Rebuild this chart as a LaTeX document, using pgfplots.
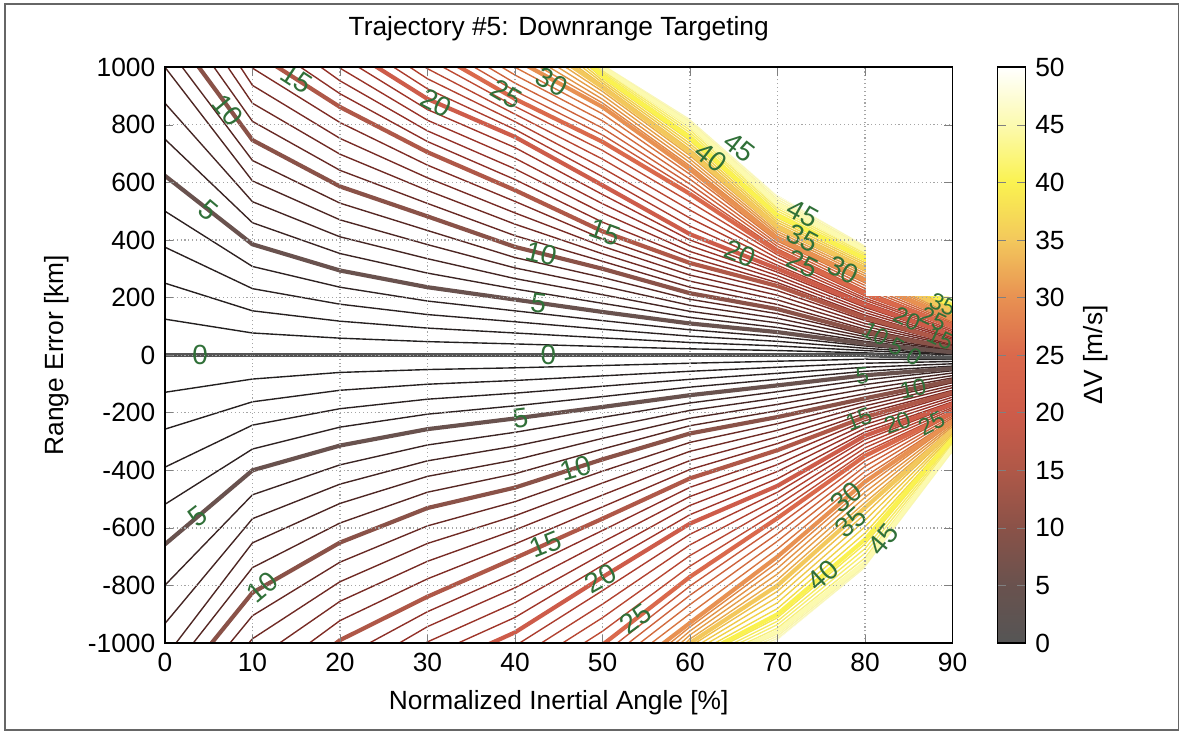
\documentclass[border=0pt]{standalone}
\usepackage{fontspec}
\setmainfont{Liberation Sans}
\usepackage{pgfplots}
\usepackage{pgfplotstable}
\pgfplotsset{compat=1.18}

\definecolor{labgreen}{RGB}{48,112,56}
\definecolor{gridgray}{RGB}{165,165,165}

\pgfplotsset{
  /pgf/number format/assume math mode=true,
  /pgf/number format/1000 sep={},
  every tick label/.append style={font=\fontsize{9.5}{11}\selectfont},
  every axis label/.append style={font=\fontsize{9.5}{11}\selectfont},
  % colour scale of the contour levels (0 ... 50 m/s)
  colormap={dv}{rgb255=(85,85,85) rgb255=(105,82,78) rgb255=(138,82,72)
    rgb255=(175,88,72) rgb255=(205,92,74) rgb255=(218,105,76)
    rgb255=(232,145,82) rgb255=(243,200,92) rgb255=(250,242,80)
    rgb255=(252,250,175) rgb255=(255,255,255)},
  % darker variant for the 1 m/s hairlines
  colormap={dvthin}{rgb255=(30,30,30) rgb255=(50,35,35) rgb255=(95,40,35)
    rgb255=(135,45,38) rgb255=(165,55,42) rgb255=(195,80,55)
    rgb255=(220,125,65) rgb255=(235,180,75) rgb255=(245,230,70)
    rgb255=(248,242,140) rgb255=(250,250,215)},
}

\tikzset{
  clab/.style={text=labgreen, font=\fontsize{10}{12}\selectfont, inner sep=0pt},
  slab/.style={text=labgreen, font=\fontsize{8.5}{10}\selectfont, inner sep=0pt},
}

% contour levels above the zero line: y [km] of level t<n> at each angle x
\pgfplotstableread{
x t0 t1 t2 t3 t4 t5 t6 t7 t8 t9 t10 t11 t12 t13 t14 t15 t16 t17 t18 t19 t20 t21 t22 t23 t24 t25 t26 t27 t28 t29 t30 t31 t32 t33 t34 t35 t36 t37 t38 t39 t40 t41 t42 t43 t44 t45 t46 t47 t48 t49 t50
0 0 125 250 375 500 623 750 875 1000 1080 1160 1240 1320 1400 1480 1560 2000 2000 2000 2000 2000 2000 2000 2000 2000 2000 2000 2000 2000 2000 2000 2000 2000 2000 2000 2000 2000 2000 2000 2000 2000 2000 2000 2000 2000 2000 2000 2000 2000 2000 2000
10 0 77 154 231 308 385 460 533 605 676 747 812 875 937 997 1056 1113 1170 1225 2000 2000 2000 2000 2000 2000 2000 2000 2000 2000 2000 2000 2000 2000 2000 2000 2000 2000 2000 2000 2000 2000 2000 2000 2000 2000 2000 2000 2000 2000 2000 2000
20 0 59 118 177 236 294 353 411 470 528 586 642 698 753 808 862 908 953 997 1040 1081 1120 1160 1198 2000 2000 2000 2000 2000 2000 2000 2000 2000 2000 2000 2000 2000 2000 2000 2000 2000 2000 2000 2000 2000 2000 2000 2000 2000 2000 2000
30 0 47 94 141 188 236 285 335 384 433 482 527 572 616 660 705 742 779 816 853 890 925 960 995 1030 1065 1095 1125 1155 1185 2000 2000 2000 2000 2000 2000 2000 2000 2000 2000 2000 2000 2000 2000 2000 2000 2000 2000 2000 2000 2000
40 0 39 77 116 154 193 230 266 303 339 376 415 455 494 534 573 610 647 684 721 758 784 811 837 864 890 918 945 973 1000 1028 1050 1072 1094 1116 1138 1160 1182 1204 1226 1248 1270 1292 1314 1336 1358 2000 2000 2000 2000 2000
50 0 30 60 90 120 150 180 210 240 270 300 326 352 378 404 430 462 494 526 558 590 620 650 681 711 741 765 789 814 838 862 876 889 903 916 930 938 946 954 962 970 976 982 988 994 1000 1004 1008 1012 1016 1020
60 0 22 44 66 88 110 131 152 173 194 215 236 257 278 299 320 340 360 380 400 420 448 476 504 532 560 577 594 611 628 645 657 669 681 693 705 715 725 735 745 755 764 773 782 791 800 806 812 818 824 830
70 0 16 32 48 64 80 96 112 128 144 160 176 192 208 224 240 252 264 276 288 300 312 324 336 348 360 369 378 387 396 405 413 421 429 437 445 453 461 469 477 485 493 501 509 517 525 533 541 549 557 565
80 0 8 16 24 32 40 48 56 64 72 80 90 100 110 120 130 139 148 157 166 175 183 191 198 206 214 223 232 242 251 260 268 276 284 292 300 307 314 321 328 335 341 347 353 359 365 370 375 380 385 390
90 -8 -4 0 3 6 10 13 16 19 22 25 29 33 37 41 45 50 55 60 65 70 76 82 88 94 100 105 110 115 120 125 130 135 140 145 150 154 158 162 166 170 174 178 182 186 190 193 196 199 202 205
}\toptab

% contour levels below the zero line
\pgfplotstableread{
x b1 b2 b3 b4 b5 b6 b7 b8 b9 b10 b11 b12 b13 b14 b15 b16 b17 b18 b19 b20 b21 b22 b23 b24 b25 b26 b27 b28 b29 b30 b31 b32 b33 b34 b35 b36 b37 b38 b39 b40 b41 b42 b43 b44 b45 b46 b47 b48 b49 b50
0 -129 -257 -389 -518 -657 -799 -932 -1050 -1125 -1200 -1275 -1350 -2000 -2000 -2000 -2000 -2000 -2000 -2000 -2000 -2000 -2000 -2000 -2000 -2000 -2000 -2000 -2000 -2000 -2000 -2000 -2000 -2000 -2000 -2000 -2000 -2000 -2000 -2000 -2000 -2000 -2000 -2000 -2000 -2000 -2000 -2000 -2000 -2000 -2000
10 -83 -162 -243 -326 -400 -485 -568 -652 -738 -825 -905 -985 -1065 -1145 -1225 -2000 -2000 -2000 -2000 -2000 -2000 -2000 -2000 -2000 -2000 -2000 -2000 -2000 -2000 -2000 -2000 -2000 -2000 -2000 -2000 -2000 -2000 -2000 -2000 -2000 -2000 -2000 -2000 -2000 -2000 -2000 -2000 -2000 -2000 -2000
20 -60 -122 -186 -250 -314 -381 -448 -515 -583 -651 -719 -787 -855 -922 -990 -1055 -1120 -1185 -2000 -2000 -2000 -2000 -2000 -2000 -2000 -2000 -2000 -2000 -2000 -2000 -2000 -2000 -2000 -2000 -2000 -2000 -2000 -2000 -2000 -2000 -2000 -2000 -2000 -2000 -2000 -2000 -2000 -2000 -2000 -2000
30 -50 -101 -153 -205 -257 -312 -367 -421 -476 -531 -593 -654 -716 -777 -839 -891 -943 -996 -1048 -1100 -2000 -2000 -2000 -2000 -2000 -2000 -2000 -2000 -2000 -2000 -2000 -2000 -2000 -2000 -2000 -2000 -2000 -2000 -2000 -2000 -2000 -2000 -2000 -2000 -2000 -2000 -2000 -2000 -2000 -2000
40 -44 -88 -132 -176 -220 -268 -316 -364 -412 -460 -509 -558 -607 -656 -705 -757 -808 -860 -911 -963 -1010 -1058 -1105 -1153 -1200 -2000 -2000 -2000 -2000 -2000 -2000 -2000 -2000 -2000 -2000 -2000 -2000 -2000 -2000 -2000 -2000 -2000 -2000 -2000 -2000 -2000 -2000 -2000 -2000 -2000
50 -36 -72 -108 -144 -180 -216 -253 -289 -326 -362 -403 -444 -486 -527 -568 -609 -649 -690 -730 -771 -818 -865 -912 -959 -1006 -1040 -1070 -1100 -1130 -1163 -1190 -1215 -1240 -1265 -2000 -2000 -2000 -2000 -2000 -2000 -2000 -2000 -2000 -2000 -2000 -2000 -2000 -2000 -2000 -2000
60 -28 -56 -84 -111 -139 -166 -192 -219 -245 -272 -303 -334 -366 -397 -428 -459 -491 -522 -554 -585 -622 -659 -696 -733 -770 -802 -834 -866 -898 -930 -944 -958 -972 -986 -1000 -1012 -1024 -1036 -1048 -1060 -1068 -1076 -1084 -1092 -1100 -1106 -1112 -1118 -1124 -1130
70 -21 -42 -63 -84 -105 -127 -149 -171 -193 -215 -238 -261 -284 -307 -330 -355 -380 -404 -429 -454 -476 -499 -521 -544 -566 -593 -620 -646 -673 -700 -720 -740 -760 -780 -800 -820 -840 -860 -880 -900 -912 -924 -936 -948 -960 -968 -976 -984 -992 -1000
80 -14 -28 -42 -56 -70 -86 -102 -118 -134 -150 -163 -176 -189 -202 -215 -228 -241 -254 -267 -280 -294 -308 -322 -336 -350 -368 -386 -404 -422 -440 -458 -476 -494 -512 -530 -552 -574 -596 -618 -640 -656 -672 -688 -704 -720 -726 -732 -738 -744 -750
90 -15 -22 -30 -38 -46 -54 -62 -71 -79 -88 -96 -105 -113 -122 -130 -138 -146 -154 -162 -170 -176 -182 -188 -194 -200 -206 -212 -218 -224 -230 -236 -242 -248 -254 -260 -266 -272 -278 -284 -290 -296 -302 -308 -314 -320 -326 -332 -338 -344 -350
}\bottab

\begin{document}
\begin{tikzpicture}
\path[use as bounding box] (-2.092,-1.154) rectangle (12.907,8.153);
\draw[black!60, line width=0.7pt] (-2.03,-1.10) rectangle (12.85,8.10);
\begin{axis}[
  scale only axis, width=9.985cm, height=7.30cm,
  xmin=0, xmax=90, ymin=-1000, ymax=1000,
  xtick={0,10,...,90}, ytick={-1000,-800,...,1000},
  grid=major, major grid style={densely dotted, gridgray, line width=0.45pt},
  tick align=inside, major tick length=3pt,
  axis line style={line width=0.6pt},
  axis on top,
  colormap name=dv, point meta min=0, point meta max=50,
  colorbar,
  colorbar style={
    at={(parent axis.north east)}, anchor=north west, xshift=0.27cm,
    scale only axis, width=0.355cm,
    ytick={0,5,...,50},
    tick align=inside, major tick length=3pt,
    axis line style={line width=0.6pt},
    ylabel={ΔV [m/s]},
  },
  title={Trajectory \#5: Downrange Targeting},
  title style={font=\fontsize{9.5}{11}\selectfont},
  xlabel={Normalized Inertial Angle [\%]},
  ylabel={Range Error [km]},
]
% 1 m/s contour hairlines
\pgfplotsinvokeforeach{1,...,50}{
  \addplot[mesh, colormap name=dvthin, point meta=#1, line width=0.5pt] table[x=x, y=t#1] {\toptab};
  \addplot[mesh, colormap name=dvthin, point meta=#1, line width=0.5pt] table[x=x, y=b#1] {\bottab};
}
% 5 m/s contours
\addplot[mesh, point meta=0, line width=1.6pt, line cap=round] table[x=x, y=t0] {\toptab};
\pgfplotsinvokeforeach{5,10,...,50}{
  \addplot[mesh, point meta=#1, line width=1.5pt, line cap=round, line join=round] table[x=x, y=t#1] {\toptab};
  \addplot[mesh, point meta=#1, line width=1.5pt, line cap=round, line join=round] table[x=x, y=b#1] {\bottab};
}
% no solutions above 207 km beyond 80 %
\addplot[draw=none, fill=white] coordinates {(80.08,207) (90,207) (90,1000) (80.08,1000)};

% level labels
\node[clab] at (axis cs:4,0) {0};
\node[clab] at (axis cs:43.8,0) {0};
\node[clab, rotate=-40] at (axis cs:5,504) {5};
\node[clab, rotate=-50] at (axis cs:7.2,850) {10};
\node[clab, rotate=-33] at (axis cs:15,959) {15};
\node[clab, rotate=-27] at (axis cs:31,877) {20};
\node[clab, rotate=-30] at (axis cs:39,907) {25};
\node[clab, rotate=-29] at (axis cs:44.2,950) {30};
\node[clab, rotate=-8] at (axis cs:42.7,181) {5};
\node[clab, rotate=-14] at (axis cs:43,353) {10};
\node[clab, rotate=-20] at (axis cs:50.3,427) {15};
\node[clab, rotate=-22] at (axis cs:65.7,352) {20};
\node[clab, rotate=-38] at (axis cs:62.4,688) {40};
\node[clab, rotate=-38] at (axis cs:65.6,722) {45};
\node[clab, rotate=-29] at (axis cs:72.9,492) {45};
\node[clab, rotate=-28] at (axis cs:72.9,405) {35};
\node[clab, rotate=-26] at (axis cs:72.9,318) {25};
\node[clab, rotate=-27] at (axis cs:77.5,296) {30};
\node[slab, rotate=-30] at (axis cs:81.2,75) {10};
\node[slab, rotate=-30] at (axis cs:83.6,30) {5};
\node[slab, rotate=-30] at (axis cs:85.6,-4) {0};
\node[slab, rotate=-25] at (axis cs:88.6,57) {15};
\node[slab, rotate=-25] at (axis cs:84.8,125) {20};
\node[slab, rotate=-25] at (axis cs:87.8,125) {25};
\node[slab, rotate=-25] at (axis cs:88.9,176) {35};
\node[clab, rotate=38] at (axis cs:3.8,-559) {5};
\node[clab, rotate=40] at (axis cs:11.1,-806) {10};
\node[clab, rotate=7] at (axis cs:40.6,-218) {5};
\node[clab, rotate=16] at (axis cs:46.9,-392) {10};
\node[clab, rotate=22] at (axis cs:43.5,-657) {15};
\node[clab, rotate=29] at (axis cs:49.8,-775) {20};
\node[clab, rotate=36] at (axis cs:53.8,-916) {25};
\node[clab, rotate=40] at (axis cs:77.9,-495) {30};
\node[clab, rotate=42] at (axis cs:78.4,-580) {35};
\node[clab, rotate=42] at (axis cs:75.2,-765) {40};
\node[clab, rotate=50] at (axis cs:82.1,-640) {45};
\node[slab, rotate=21] at (axis cs:79.3,-223) {15};
\node[slab, rotate=20] at (axis cs:83.7,-235) {20};
\node[slab, rotate=26] at (axis cs:87.6,-238) {25};
\node[slab, rotate=11] at (axis cs:85.5,-116) {10};
\node[slab, rotate=6] at (axis cs:79.7,-71) {5};
\end{axis}
\end{tikzpicture}
\end{document}
